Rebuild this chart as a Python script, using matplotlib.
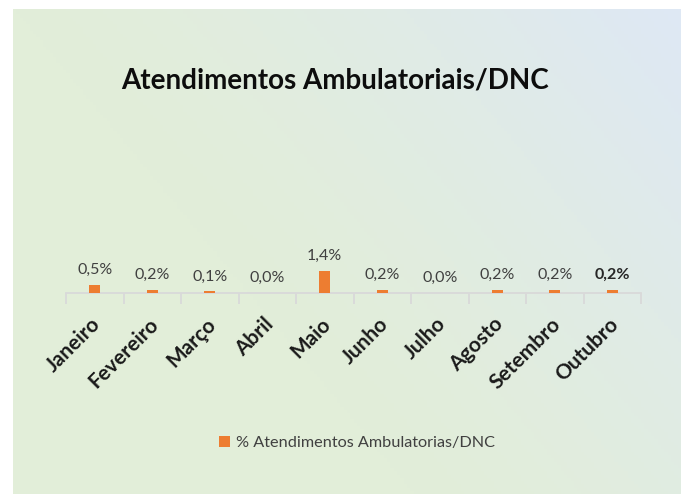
import matplotlib
matplotlib.use("Agg")
import matplotlib.pyplot as plt
import numpy as np

months = ["Janeiro", "Fevereiro", "Março", "Abril", "Maio", "Junho",
          "Julho", "Agosto", "Setembro", "Outubro"]
values = [0.5, 0.2, 0.1, 0.0, 1.4, 0.2, 0.0, 0.2, 0.2, 0.2]
value_labels = ["0,5%", "0,2%", "0,1%", "0,0%", "1,4%", "0,2%",
                "0,0%", "0,2%", "0,2%", "0,2%"]
title = "Atendimentos Ambulatoriais/DNC"
series_name = "% Atendimentos Ambulatorias/DNC"

W, H = 688, 494
fig = plt.figure(figsize=(W / 100, H / 100), dpi=100)
fig.patch.set_facecolor("white")

# gradient background box
bg = fig.add_axes([13 / W, 0, (681 - 13) / W, (494 - 9) / H])
bg.set_axis_off()
nx, ny = 200, 150
xx, yy = np.meshgrid(np.linspace(0, 1, nx), np.linspace(0, 1, ny))
t = np.clip((xx * 0.75 + yy * 0.45 - 0.45) / 0.75, 0, 1) ** 1.3
green = np.array([226, 238, 217]) / 255
blue = np.array([222, 232, 245]) / 255
img = green[None, None, :] * (1 - t[..., None]) + blue[None, None, :] * t[..., None]
bg.imshow(img, origin="lower", extent=[0, 1, 0, 1], aspect="auto")
bg.set_xlim(0, 1)
bg.set_ylim(0, 1)

# main axes
x0, x1 = 66, 641
ybase = 293
pxper = 15.5
ymax = 10
ax = fig.add_axes([x0 / W, (H - ybase) / H, (x1 - x0) / W, ymax * pxper / H])
ax.patch.set_alpha(0)
xs = np.arange(len(months))
bars = ax.bar(xs, values, width=0.19, color="#ED7D31", label=series_name, zorder=3)
ax.set_xlim(-0.5, len(months) - 0.5)
ax.set_ylim(0, ymax)
for s in ["top", "right", "left"]:
    ax.spines[s].set_visible(False)
ax.spines["bottom"].set_color("#d9d9d9")
ax.spines["bottom"].set_linewidth(1.3)
ax.set_yticks([])
ax.set_xticks(np.arange(len(months) + 1) - 0.5, minor=False)
ax.set_xticklabels([])
ax.tick_params(axis="x", length=8, width=1.3, color="#d9d9d9", direction="out")

for i, (xi, v, lab) in enumerate(zip(xs, values, value_labels)):
    last = i == len(xs) - 1
    ax.annotate(lab, (xi, v), xytext=(0, 8), textcoords="offset pixels",
                ha="center", va="bottom", fontsize=11.5,
                color="#262626" if last else "#404040",
                fontweight="bold" if last else "normal",
                family="Lato")

# rotated category labels
for xi, m in zip(xs, months):
    ax.annotate(m, (xi, 0), xytext=(-4, -21), textcoords="offset pixels",
                ha="right", va="top", rotation=45, rotation_mode="anchor",
                fontsize=15, fontweight="bold", color="#1a1a1a", family="Lato")

fig.text(335 / W, 1 - 80 / H, title, ha="center", va="center",
         fontsize=20, fontweight="bold", color="#0d0d0d", family="Lato")

fig.legend(handles=[bars], labels=[series_name], loc="center",
           bbox_to_anchor=(357 / W, 1 - 443 / H), frameon=False,
           prop={"family": "Lato", "size": 11.7}, labelcolor="#404040",
           handlelength=0.65, handleheight=0.65, handletextpad=0.4)

fig.savefig("out.png", dpi=100, facecolor="white")
